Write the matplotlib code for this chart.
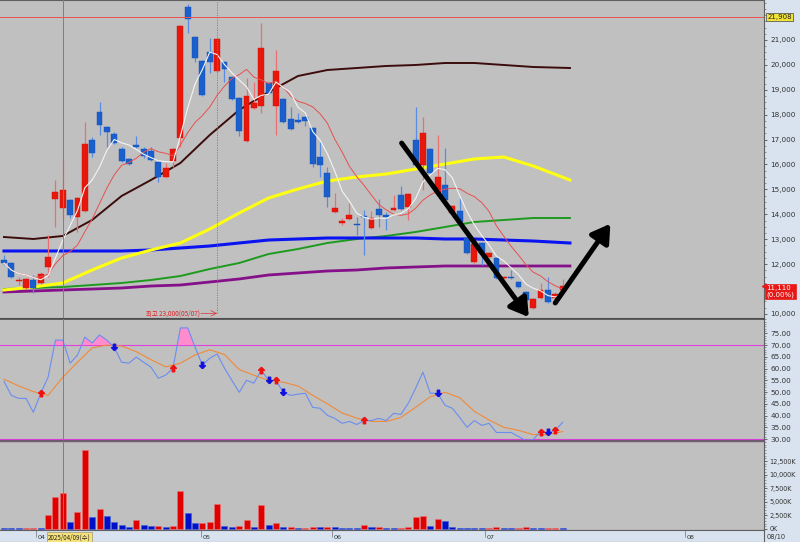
import numpy as np
import pandas as pd
import matplotlib
matplotlib.use('Agg')
import matplotlib.pyplot as plt
from matplotlib.ticker import FixedLocator, MultipleLocator

## daily candles (price, won)
opens = [12160, 12040, 11320, 11040, 11360, 11240, 11880, 14610, 14250, 14570,
         13890, 14130, 16980, 18110, 17510, 17230, 16620, 16220, 16780, 16620,
         16540, 16100, 15500, 16140, 17060, 22330, 21120, 20160, 20520, 19760,
         20120, 19510, 18670, 16940, 18270, 18350, 19270, 18350, 18630, 17830,
         17790, 17910, 17470, 16300, 15660, 14090, 13650, 13810, 13610, 13930,
         13450, 14210, 13970, 14170, 14770, 14290, 16980, 15980, 16620, 14860,
         15180, 14050, 14130, 13050, 12080, 12850, 12290, 12250, 11440, 11480,
         11280, 10880, 10240, 10640, 10960, 10640, 10960]
highs = [12370, 12100, 11480, 11440, 11560, 11680, 13170, 15380, 16180, 14610,
         14700, 17710, 17100, 18510, 17540, 17300, 16700, 16260, 17140, 16700,
         16700, 16140, 16060, 16660, 21600, 22450, 21160, 20200, 21080, 21080,
         20160, 19550, 18710, 19470, 19310, 21680, 19310, 20600, 18670, 18310,
         18070, 17950, 17510, 16900, 15900, 14860, 13850, 14450, 13890, 14170,
         14130, 14610, 14090, 14770, 15140, 14850, 18310, 17910, 16660, 17180,
         16660, 14370, 14650, 13090, 12850, 12890, 12490, 12290, 11520, 11760,
         11320, 10920, 10640, 11240, 11480, 10880, 11400]
lows = [11960, 11440, 11160, 11000, 10840, 11200, 11480, 13490, 13770, 13850,
        13290, 14100, 16300, 17190, 16700, 16820, 16100, 15980, 16660, 16260,
        16140, 15300, 15460, 15900, 16700, 21280, 20120, 18750, 19680, 19700,
        19310, 18590, 17140, 16900, 18230, 18070, 18830, 17190, 17670, 17390,
        17670, 17550, 15900, 15500, 14290, 14050, 13570, 13770, 13170, 12370,
        13410, 13490, 13370, 14130, 14170, 13770, 15940, 14980, 15620, 14820,
        14530, 14010, 13650, 12410, 12040, 11960, 12250, 11400, 11400, 11400,
        11040, 10520, 10200, 10600, 10440, 10600, 10920]
closes = [12040, 11480, 11340, 11400, 11040, 11600, 12280, 14900, 14980, 13970,
          14650, 16820, 16460, 17590, 17300, 16860, 16140, 16020, 16700, 16340,
          16180, 15500, 15860, 16620, 21560, 21840, 20280, 18790, 20120, 21040,
          19840, 18630, 17350, 18750, 18470, 20680, 18870, 19760, 17710, 17430,
          17710, 17750, 16020, 15980, 14690, 14250, 13730, 13970, 13570, 13890,
          13850, 13970, 13890, 14250, 14210, 14810, 15980, 17260, 15660, 15500,
          14570, 14330, 13690, 12450, 12810, 12450, 12450, 11440, 11480, 11440,
          11080, 10560, 10600, 10960, 10480, 10800, 11110]

## volume (thousand shares) and its colour (1 = red, 0 = blue)
volume = [240, 240, 180, 240, 240, 240, 2570, 5940, 6560, 1350,
          3190, 14520, 2150, 3610, 2450, 1350, 740, 430, 1650, 740,
          550, 550, 310, 550, 6990, 3000, 1040, 1040, 1350, 4600,
          550, 430, 550, 1650, 310, 4410, 740, 1040, 310, 310,
          120, 120, 310, 310, 430, 310, 180, 120, 120, 670,
          310, 310, 180, 180, 240, 310, 2270, 2390, 550, 1780,
          1470, 310, 180, 180, 120, 180, 180, 310, 180, 120,
          180, 310, 180, 180, 180, 180, 180]
vol_up = [0, 0, 0, 1, 1, 0, 1, 1, 1, 0,
          1, 1, 0, 1, 0, 0, 0, 0, 1, 0,
          0, 1, 0, 1, 1, 0, 0, 1, 1, 1,
          0, 0, 1, 1, 0, 1, 0, 1, 0, 1,
          0, 1, 1, 0, 1, 0, 0, 0, 0, 1,
          0, 1, 0, 0, 1, 1, 1, 1, 0, 1,
          0, 0, 0, 0, 0, 0, 1, 1, 0, 0,
          1, 1, 0, 0, 1, 1, 0]

## long moving averages, read at every 4th bar
ma_idx = [0, 4, 8, 12, 16, 20, 24, 28, 32, 36, 40, 44, 48, 52, 56, 60, 64, 68, 72, 77]
ma_brown = [13088, 13008, 13129, 13773, 14735, 15377, 16060, 17185, 18189, 18911,
            19554, 19795, 19875, 19956, 19996, 20076, 20076, 19996, 19916, 19875]
ma_yellow = [10960, 11080, 11241, 11763, 12245, 12566, 12847, 13409, 14052, 14654,
             15016, 15337, 15498, 15618, 15819, 16020, 16221, 16301, 15940, 15377]
ma_green = [10999, 11040, 11080, 11160, 11241, 11361, 11522, 11803, 12044, 12405,
            12606, 12847, 13008, 13129, 13289, 13490, 13691, 13771, 13851, 13851]
ma_blue = [12526, 12526, 12526, 12526, 12526, 12566, 12646, 12727, 12847, 12967,
           13008, 13048, 13048, 13048, 13048, 13008, 13008, 12967, 12927, 12847]
ma_purple = [10879, 10919, 10960, 10999, 11040, 11120, 11160, 11281, 11402, 11562,
             11643, 11723, 11763, 11844, 11884, 11924, 11924, 11924, 11924, 11924]

## RSI and its signal
rsi = [54.6, 48.6, 47.3, 47.3, 41.4, 49.5, 56.3, 72.1, 72.1, 62.3,
       65.7, 73.4, 70.9, 74.3, 72.1, 69.1, 62.7, 62.3, 64.9, 62.7,
       60.6, 55.9, 57.2, 60.2, 77.3, 77.3, 69.1, 61.5, 64.4, 66.2,
       60.2, 55.0, 49.9, 55.0, 53.8, 59.3, 55.0, 55.0, 49.9, 48.6,
       49.1, 49.5, 43.5, 43.1, 40.1, 38.8, 36.7, 37.5, 36.2, 37.9,
       37.9, 38.8, 37.9, 40.9, 40.5, 45.2, 51.6, 58.5, 49.5, 49.5,
       44.4, 43.1, 39.2, 35.0, 37.9, 35.8, 36.7, 32.8, 32.8, 32.8,
       31.1, 29.4, 29.8, 33.2, 32.8, 33.7, 37.1]
sig_idx = list(range(0, 77, 2))
rsi_signal = [55.5, 52.6, 50.2, 48.6, 56.3, 62.7, 68.8, 70.0, 69.6, 67.2,
              63.8, 60.7, 62.3, 65.8, 68.0, 66.0, 59.6, 57.2, 55.0, 54.2,
              52.6, 48.6, 45.0, 41.1, 38.9, 37.5, 37.5, 39.2, 43.5, 48.0,
              49.9, 47.6, 41.8, 38.1, 35.0, 33.7, 31.9, 31.9, 33.2]
buy_idx = [5, 23, 35, 37, 49, 73, 75]
sell_idx = [15, 27, 36, 38, 59, 74]

month_pos = [4.6, 27.0, 44.8, 65.7, 92.9]
month_lbl = ['04', '05', '06', '07', '08']

cross_idx = 8
high_idx = 29
last_price = 21908

RED = '#e8170b'
BLUE = '#1a5fcc'
BG = '#c0c0c0'
PANEL = '#d8e3ef'
KR = ['Noto Sans CJK KR', 'DejaVu Sans']

W, H = 800, 542
fig = plt.figure(figsize=(8, 5.42), dpi=100)
fig.patch.set_facecolor(PANEL)

def px_axes(x0, y0, x1, y1):
    return fig.add_axes([x0 / W, 1 - y1 / H, (x1 - x0) / W, (y1 - y0) / H])

ax_p = px_axes(0, 0, 764, 318)
ax_r = px_axes(0, 319, 764, 440)
ax_v = px_axes(0, 441, 764, 530)
ax_d = px_axes(0, 530, 764, 542)

xlim = (-0.54, 103.4)
for ax in (ax_p, ax_r, ax_v, ax_d):
    ax.set_facecolor(BG)
    ax.set_xlim(*xlim)
    ax.set_xticks([])
    for s in ax.spines.values():
        s.set_color('#606060')
        s.set_linewidth(0.8)
    ax.spines['left'].set_visible(False)
    ax.yaxis.tick_right()
    ax.tick_params(axis='y', labelsize=5.2, colors='#333333', length=2, width=0.5,
                   pad=2.5, direction='out')
    ax.tick_params(axis='y', which='minor', length=1.2, width=0.4, colors='#555555')
ax_d.set_facecolor(PANEL)
ax_d.set_yticks([])

x = np.arange(len(closes))
o = np.array(opens); c = np.array(closes)
hi = np.array(highs); lo = np.array(lows)
up = c >= o

## ---- price panel ----
ax_p.set_ylim(9835, 22606)
ax_p.plot(ma_idx, ma_purple, color='#85108a', lw=2.0, zorder=1)
ax_p.plot(ma_idx, ma_green, color='#1e9a1e', lw=1.4, zorder=1)
ax_p.plot(ma_idx, ma_blue, color='#0a14f0', lw=2.2, zorder=1)
ax_p.plot(ma_idx, ma_yellow, color='#ffff10', lw=2.2, zorder=1)
ax_p.plot(ma_idx, ma_brown, color='#3c0c0c', lw=1.4, zorder=1)

ax_p.vlines(x[up], lo[up], hi[up], color='#e87070', lw=0.9, zorder=2)
ax_p.vlines(x[~up], lo[~up], hi[~up], color='#5a8ce0', lw=0.9, zorder=2)
body = np.maximum(np.abs(c - o), 50)
ax_p.bar(x[up], body[up], bottom=np.minimum(o, c)[up], width=0.8,
         color=RED, edgecolor='#d01008', lw=0.3, zorder=3)
ax_p.bar(x[~up], body[~up], bottom=np.minimum(o, c)[~up], width=0.8,
         color=BLUE, edgecolor='#1050b8', lw=0.3, zorder=3)

ma5 = pd.Series(closes).rolling(5, min_periods=1).mean()
ma10 = pd.Series(closes).rolling(10, min_periods=1).mean()
ax_p.plot(x, ma10, color='#e85050', lw=0.7, zorder=4)
ax_p.plot(x, ma5, color='#f4f4f4', lw=0.8, zorder=4)

# crosshair and high marker
ax_p.axhline(last_price, color='#f05050', lw=0.7, zorder=5)
ax_p.axvline(high_idx, ymin=0.015, color='#e85050', lw=0.6, ls=(0, (1.5, 1.5)), zorder=5)
ax_p.annotate('', xy=(high_idx, 10020), xytext=(high_idx - 2.2, 10020),
              arrowprops=dict(arrowstyle='->', color='#e03030', lw=0.5,
                              shrinkA=0, shrinkB=0), zorder=6)
ax_p.text(high_idx - 2.3, 10020, '최고 23,000(05/07)', color='#e02020', fontsize=4.6,
          ha='right', va='center', family=KR, zorder=6)

# trend arrows drawn by hand on the chart
ax_p.annotate('', xy=(71.4, 9870), xytext=(54.1, 16860),
              arrowprops=dict(arrowstyle='-|>,head_length=0.9,head_width=0.55',
                              color='black', lw=3.6, shrinkA=0, shrinkB=0,
                              mutation_scale=12), zorder=7)
ax_p.annotate('', xy=(82.5, 13620), xytext=(75.0, 10440),
              arrowprops=dict(arrowstyle='-|>,head_length=0.9,head_width=0.55',
                              color='black', lw=3.6, shrinkA=0, shrinkB=0,
                              mutation_scale=12), zorder=7)

price_ticks = [v for v in range(10000, 22001, 1000) if v not in (11000, 22000)]
ax_p.yaxis.set_major_locator(FixedLocator(price_ticks))
ax_p.yaxis.set_minor_locator(MultipleLocator(250))
ax_p.set_yticklabels([f'{v:,}' for v in price_ticks])

ytr = ax_p.get_yaxis_transform()
ax_p.text(1.0045, last_price, f'{last_price:,}', transform=ytr, fontsize=5.0,
          color='#222222', ha='left', va='center', clip_on=False, zorder=10,
          bbox=dict(boxstyle='square,pad=0.15', fc='#f2e33a', ec='#444444', lw=0.5))
ax_p.text(1.003, closes[-1] + 60, f'{closes[-1]:,}\n(0.00%)', transform=ytr,
          fontsize=5.0, color='white', ha='left', va='top', clip_on=False, zorder=10,
          linespacing=1.1,
          bbox=dict(boxstyle='square,pad=0.25', fc='#e81818', ec='#e81818', lw=0.5))
ax_p.plot([1.0005], [closes[-1]], marker='<', ms=3, color='#e81818',
          transform=ytr, clip_on=False, zorder=10)

## ---- RSI panel ----
ax_r.set_ylim(29.6, 81.1)
r = np.array(rsi)
ax_r.axhline(70, color='#e040e0', lw=0.8, zorder=1)
ax_r.axhline(30, color='#e040e0', lw=0.8, zorder=1)
ax_r.fill_between(x, r, 70, where=r > 70, interpolate=True, color='#ff8ccc',
                  lw=0, zorder=2)
ax_r.plot(sig_idx, rsi_signal, color='#f08a3a', lw=0.8, zorder=3)
ax_r.plot(x, r, color='#6a8ef0', lw=0.8, zorder=3)
up_arrow = [(0, 1), (-0.9, 0.05), (-0.35, 0.05), (-0.35, -1), (0.35, -1),
            (0.35, 0.05), (0.9, 0.05), (0, 1)]
dn_arrow = [(px, -py) for px, py in up_arrow]
ax_r.scatter(buy_idx, r[buy_idx], marker=up_arrow, s=22, color='#f01010', zorder=4)
ax_r.scatter(sell_idx, r[sell_idx], marker=dn_arrow, s=22, color='#1010e0', zorder=4)
ax_r.yaxis.set_major_locator(FixedLocator(np.arange(30, 76, 5)))
ax_r.yaxis.set_minor_locator(MultipleLocator(1))
ax_r.set_yticklabels([f'{v:.2f}' for v in np.arange(30, 76, 5)])
ax_r.spines['top'].set_color('#4a4a4a')
ax_r.spines['top'].set_linewidth(1.2)

## ---- volume panel ----
vu = np.array(vol_up, dtype=bool)
vol = np.array(volume)
ax_v.set_ylim(-184, 16190)
ax_v.bar(x[vu], vol[vu], width=0.82, color='#e00000', edgecolor='#f07070', lw=0.4)
ax_v.bar(x[~vu], vol[~vu], width=0.82, color='#0010c8', edgecolor='#4060e0', lw=0.4)
ax_v.yaxis.set_major_locator(FixedLocator(range(0, 12501, 2500)))
ax_v.yaxis.set_minor_locator(MultipleLocator(500))
ax_v.set_yticklabels([f'{v:,}K' for v in range(0, 12501, 2500)])
ax_v.tick_params(axis='y', labelsize=4.7, pad=2)
ax_v.spines['top'].set_color('#7a5a7a')
ax_v.spines['top'].set_linewidth(1.0)

## crosshair through all panels
for ax in (ax_p, ax_r, ax_v):
    ax.axvline(cross_idx, color='#f05050', lw=0.7, zorder=6)

## ---- date strip ----
ax_d.set_ylim(0, 1)
for pos, lbl in zip(month_pos, month_lbl):
    ax_d.vlines(pos - 0.2, 0.45, 1.0, color='#707070', lw=0.5)
    ax_d.text(pos, 0.35, lbl, fontsize=4.6, color='#333333', ha='left', va='center')
ax_d.text(cross_idx - 2.0, 0.4, '2025/04/09(수)', fontsize=4.5, color='#222222',
          ha='left', va='center', family=KR, zorder=5,
          bbox=dict(boxstyle='square,pad=0.12', fc='#f6e27a', ec='#888866', lw=0.4))
fig.text(767 / W, 1 - 537 / H, '08/10', fontsize=4.8, color='#333333',
         ha='left', va='center')

fig.savefig('out.png', dpi=100, facecolor=fig.get_facecolor())
